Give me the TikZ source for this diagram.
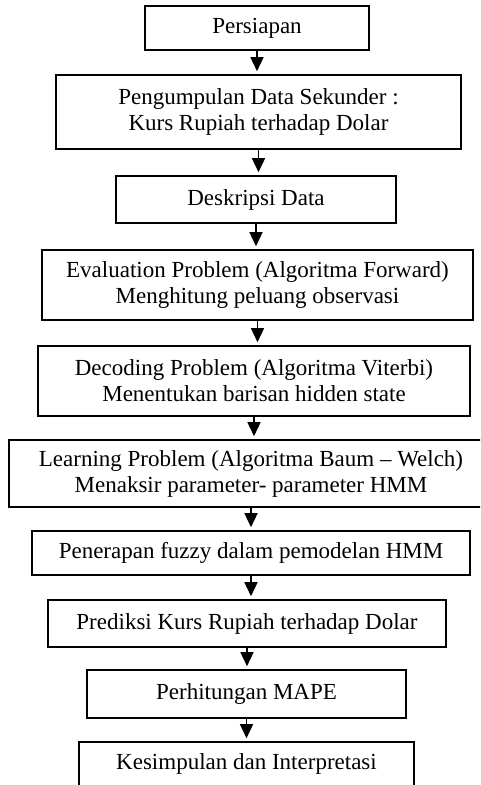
\documentclass[tikz,border=0pt]{standalone}
\usepackage{fontspec}
\setmainfont{Liberation Serif}
\usetikzlibrary{arrows.meta}
\begin{document}
\begin{tikzpicture}[x=1pt,y=-1pt,
  stepbox/.style={draw,line width=1.6pt,inner sep=0pt,align=center,
    font=\fontsize{23}{26}\selectfont},
  flow/.style={line width=1.5pt,-{Triangle[width=13pt,length=14pt]},shorten >=3pt}]
\useasboundingbox (0,0) rectangle (480,785);
\clip (0,0) rectangle (480,785);
\fill[white] (0,0) rectangle (480,785);
\node[stepbox,minimum width=224pt,minimum height=44pt] (p1) at (257,28) {Persiapan};
\node[stepbox,minimum width=405pt,minimum height=74pt] (p2) at (258.5,112) {Pengumpulan Data Sekunder :\\Kurs Rupiah terhadap Dolar};
\node[stepbox,minimum width=280pt,minimum height=47pt] (p3) at (256,199.5) {Deskripsi Data};
\node[stepbox,minimum width=431pt,minimum height=70pt] (p4) at (257.5,285) {Evaluation Problem (Algoritma Forward)\\Menghitung peluang observasi};
\node[stepbox,minimum width=432pt,minimum height=70pt] (p5) at (254,381) {Decoding Problem (Algoritma Viterbi)\\Menentukan barisan hidden state};
\node[stepbox,minimum width=484pt,minimum height=67pt] (p6) at (251,473.5) {Learning Problem (Algoritma Baum – Welch)\\Menaksir parameter- parameter HMM};
\node[stepbox,minimum width=438pt,minimum height=44pt] (p7) at (251,553) {Penerapan fuzzy dalam pemodelan HMM};
\node[stepbox,minimum width=398pt,minimum height=47pt] (p8) at (247,623.5) {Prediksi Kurs Rupiah terhadap Dolar};
\node[stepbox,minimum width=319pt,minimum height=48pt] (p9) at (246.5,694) {Perhitungan MAPE};
\node[stepbox,minimum width=335pt,minimum height=44pt] (p10) at (246.5,764) {Kesimpulan dan Interpretasi};
\foreach \a/\b in {p1/p2,p2/p3,p3/p4,p4/p5,p5/p6,p6/p7,p7/p8,p8/p9,p9/p10}
  \draw[flow] (\a.south) -- (\a.south |- \b.north);
\end{tikzpicture}
\end{document}
